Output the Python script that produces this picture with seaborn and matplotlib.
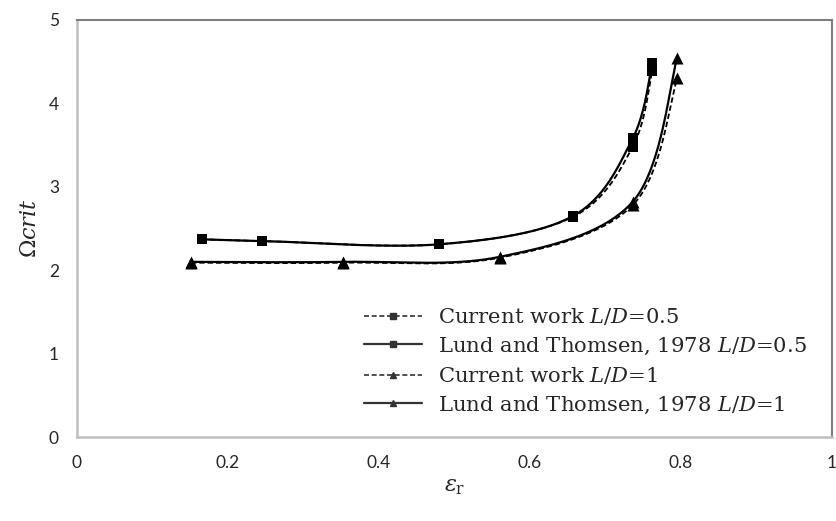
import numpy as np
import pandas as pd
import matplotlib
matplotlib.use("Agg")
import matplotlib.pyplot as plt
from matplotlib.lines import Line2D
import seaborn as sns

# Eccentricity ratio and critical speed for each case
eps_sq = [0.165, 0.245, 0.479, 0.657, 0.736, 0.762]
omega_current_05 = [2.37, 2.35, 2.31, 2.64, 3.48, 4.39]
omega_lund_05 = [2.37, 2.35, 2.31, 2.65, 3.58, 4.48]

eps_tri = [0.151, 0.352, 0.560, 0.736, 0.795]
omega_current_1 = [2.09, 2.09, 2.15, 2.78, 4.30]
omega_lund_1 = [2.10, 2.10, 2.16, 2.82, 4.55]

labels = [
    r"Current work $L/D$=0.5",
    r"Lund and Thomsen, 1978 $L/D$=0.5",
    r"Current work $L/D$=1",
    r"Lund and Thomsen, 1978 $L/D$=1",
]
x_ticks = [0, 0.2, 0.4, 0.6, 0.8, 1]
x_tick_labels = ["0", "0.2", "0.4", "0.6", "0.8", "1"]
y_ticks = [0, 1, 2, 3, 4, 5]


def smooth(xs, ys, n=40):
    """Cubic Bezier smoothing through every point (Catmull-Rom style)."""
    p = np.column_stack([xs, ys]).astype(float)
    ext = np.vstack([p[0], p, p[-1]])
    out = []
    t = np.linspace(0, 1, n)[:, None]
    for i in range(len(p) - 1):
        p0, p1, p2, p3 = ext[i], ext[i + 1], ext[i + 2], ext[i + 3]
        c1 = p1 + (p2 - p0) / 6.0
        c2 = p2 - (p3 - p1) / 6.0
        seg = ((1 - t) ** 3) * p1 + 3 * ((1 - t) ** 2) * t * c1 + 3 * (1 - t) * t ** 2 * c2 + t ** 3 * p2
        out.append(seg if i == 0 else seg[1:])
    pts = np.vstack(out)
    return pts[:, 0], pts[:, 1]


sns.set_theme(style="white")
plt.rcParams["font.family"] = ["Lato", "DejaVu Sans"]
plt.rcParams["mathtext.fontset"] = "dejavuserif"

fig = plt.figure(figsize=(8.36, 5.21), dpi=100)
ax = fig.add_axes([77 / 836, 1 - 437 / 521, 755 / 836, 417 / 521])

series = [
    (eps_sq, omega_current_05, "s", (3, 1.6), 1.3),
    (eps_sq, omega_lund_05, "s", "", 1.6),
    (eps_tri, omega_current_1, "^", (3, 1.6), 1.3),
    (eps_tri, omega_lund_1, "^", "", 1.6),
]

for xs, ys, mk, dash, lw in series:
    sx, sy = smooth(xs, ys)
    df = pd.DataFrame({"x": sx, "y": sy})
    line_ax = sns.lineplot(data=df, x="x", y="y", sort=False, estimator=None,
                           color="black", linewidth=lw, ax=ax)
    ln = line_ax.lines[-1]
    if dash:
        ln.set_dashes(dash)
    pts = pd.DataFrame({"x": xs, "y": ys})
    sns.scatterplot(data=pts, x="x", y="y", marker=mk, s=60 if mk == "s" else 75,
                    color="black", edgecolor="black", linewidth=0, ax=ax, zorder=3)

ax.set_xlim(0, 1)
ax.set_ylim(0, 5)
ax.set_xticks(x_ticks)
ax.set_xticklabels(x_tick_labels)
ax.set_yticks(y_ticks)
ax.tick_params(axis="both", direction="out", length=5, width=1.5, color="#bfbfbf",
               labelsize=12.5, labelcolor="#262626", pad=8)

for side in ("left", "bottom"):
    ax.spines[side].set_color("#bfbfbf")
    ax.spines[side].set_linewidth(1.8)
for side in ("top", "right"):
    ax.spines[side].set_color("#7f7f7f")
    ax.spines[side].set_linewidth(1.5)

ax.set_xlabel(r"$\varepsilon_{\mathrm{r}}$", fontsize=16, labelpad=4)
ax.set_ylabel(r"$\Omega crit$", fontsize=16, labelpad=6)

handles = [
    Line2D([], [], color="#333333", lw=1.2, ls=(0, (3, 1.6)), marker="s", markersize=5),
    Line2D([], [], color="#333333", lw=1.6, ls="-", marker="s", markersize=5),
    Line2D([], [], color="#333333", lw=1.2, ls=(0, (3, 1.6)), marker="^", markersize=5),
    Line2D([], [], color="#333333", lw=1.6, ls="-", marker="^", markersize=5),
]
ax.legend(handles, labels, loc="upper left", bbox_to_anchor=(364 / 836, 1 - 306 / 521),
          bbox_transform=fig.transFigure, frameon=False, borderpad=0, borderaxespad=0,
          handlelength=2.75, handletextpad=0.75, labelspacing=0.4,
          prop={"family": ["DejaVu Serif"], "size": 15.2})

fig.savefig("out.png", dpi=100)
